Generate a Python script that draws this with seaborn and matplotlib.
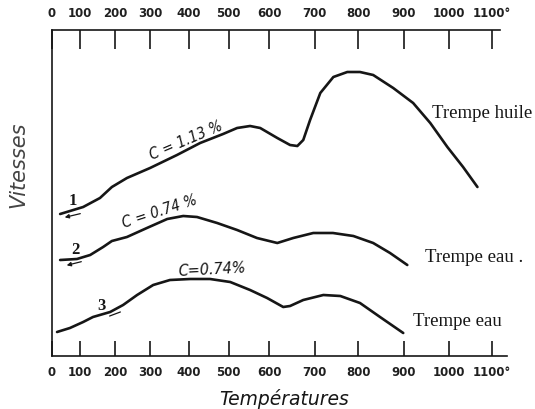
import numpy as np
import pandas as pd
import matplotlib
matplotlib.use("Agg")
import matplotlib.pyplot as plt
import seaborn as sns

# ---------------- data ----------------
# hand-drawn temperature scale: tick temperatures and the (irregular) drawn spacing
tick_temps = [0, 100, 200, 300, 400, 500, 600, 700, 800, 900, 1000, 1100]
tick_labels = ["0", "100", "200", "300", "400", "500", "600", "700", "800",
               "900", "1000", "1100°"]
scale_marks = [52, 80, 115, 150, 189, 228.5, 269, 314.5, 358, 403.5, 448.5, 492]

# curve 1 : C = 1.13 %, trempe huile  (temperature °C, relative speed)
t1 = [29, 109, 157, 191, 234, 300, 369, 428, 486, 521, 553, 578, 618, 646,
      662, 675, 690, 713, 743, 775, 804, 833, 877, 921, 959, 997, 1033, 1066]
v1 = [142, 149, 158, 169, 178, 188, 201, 213, 222, 228, 230, 228, 218, 211,
      210, 216, 236, 263, 279, 284, 284, 281, 268, 253, 233, 209, 189, 169]
# curve 2 : C = 0.74 %, trempe eau
t2 = [29, 89, 129, 166, 191, 234, 291, 344, 385, 420, 471, 521, 570, 618,
      653, 697, 742, 789, 833, 870, 908]
v2 = [96, 97, 101, 109, 115, 119, 128, 137, 140, 139, 133, 126, 118, 113,
      118, 123, 123, 120, 113, 103, 91]
# curve 3 : C = 0.74 %, trempe eau
t3 = [18, 64, 109, 137, 186, 223, 263, 308, 351, 403, 453, 504, 553, 595,
      631, 646, 675, 720, 759, 804, 848, 899]
v3 = [24, 28, 34, 39, 44, 51, 61, 71, 76, 77, 77, 74, 66, 58,
      49, 50, 56, 61, 60, 53, 39, 23]

curve_names = ["1", "2", "3"]

df = pd.concat([
    pd.DataFrame({"T": t1, "v": v1, "curve": "1"}),
    pd.DataFrame({"T": t2, "v": v2, "curve": "2"}),
    pd.DataFrame({"T": t3, "v": v3, "curve": "3"}),
], ignore_index=True)

# ---------------- figure ----------------
sns.set_style("white")
plt.rcParams["font.family"] = ["DejaVu Sans"]

W, H = 535, 409
fig = plt.figure(figsize=(W / 100, H / 100), dpi=100)
ax = fig.add_axes([52 / W, 53 / H, 462 / W, 326 / H])

ext_t = np.r_[-300, tick_temps, 1500]
ext_p = np.r_[52 - 0.28 * 300, scale_marks, 492 + 0.435 * 400]


def fwd(t):
    return np.interp(t, ext_t, ext_p)


def inv(p):
    return np.interp(p, ext_p, ext_t)


ax.set_xscale("function", functions=(fwd, inv))

ink = "#161616"
sns.lineplot(data=df, x="T", y="v", hue="curve", units="curve",
             estimator=None, sort=False, legend=False,
             palette={c: ink for c in curve_names}, linewidth=1.9, ax=ax)
for ln in ax.lines:
    ln.set_solid_joinstyle("round")
    ln.set_solid_capstyle("round")

ax.set_xlim(0, 1150)
ax.set_ylim(0, 326)
ax.set_xlabel("")
ax.set_ylabel("")
ax.set_yticks([])
ax.set_xticks(tick_temps)
ax.set_xticklabels(tick_labels)
ax.tick_params(axis="x", which="major", direction="in", top=True, bottom=True,
               labeltop=True, labelbottom=True, length=11, width=1.2,
               color=ink, labelcolor="#202020", labelsize=8.5, pad=7)
for lab in ax.get_xticklabels(which="both"):
    lab.set_fontweight("semibold")
for lab in ax.xaxis.get_ticklabels(minor=False):
    lab.set_fontweight("semibold")
for tk in ax.xaxis.get_major_ticks():
    tk.tick2line.set_markersize(14)
    tk.label2.set_fontweight("semibold")

for s in ["top", "bottom", "left"]:
    ax.spines[s].set_color(ink)
    ax.spines[s].set_linewidth(1.2)
ax.spines["right"].set_visible(False)
ax.spines["bottom"].set_bounds(0, 1135)
ax.spines["top"].set_bounds(0, 1118)


def fp(x, y):
    return (x / W, 1 - y / H)


# axis titles
fig.text(*fp(284, 399), "Températures", ha="center", va="center",
         fontsize=13.5, style="italic", color=ink)
fig.text(*fp(18, 165), "Vitesses", ha="center", va="center", rotation=90,
         fontsize=15, style="italic", color="#444444", fontweight="light")

# curve annotations
serif = ["Liberation Serif", "DejaVu Serif"]
fig.text(*fp(432, 113), "Trempe huile", ha="left", va="center",
         fontsize=13.5, family=serif, color=ink)
fig.text(*fp(425, 257), "Trempe eau .", ha="left", va="center",
         fontsize=13.5, family=serif, color=ink)
fig.text(*fp(413, 322), "Trempe eau", ha="left", va="center",
         fontsize=13.5, family=serif, color=ink)

ckw = dict(ha="center", va="center", style="italic", color=ink,
           rotation_mode="anchor", fontstretch="condensed")
fig.text(*fp(186, 141), "C = 1.13 %", rotation=23, fontsize=11, **ckw)
fig.text(*fp(160, 212), "C = 0.74 %", rotation=18, fontsize=11, **ckw)
fig.text(*fp(212, 270), "C=0.74%", rotation=3, fontsize=11.5, **ckw)

for name, (x, y) in zip(curve_names, [(73, 201), (75, 250), (102, 306)]):
    fig.text(*fp(x, y), name, ha="center", va="center", fontsize=12,
             family=serif, fontweight="bold", color=ink)

# little direction arrows / strokes under the curve numbers
for (x0, y0, x1, y1, style) in [(83, 213, 62, 218, "-|>"),
                                 (84, 261, 64, 266, "-|>"),
                                 (123, 311, 107, 317, "-")]:
    fig.add_artist(matplotlib.patches.FancyArrowPatch(
        fp(x0, y0), fp(x1, y1), transform=fig.transFigure,
        arrowstyle=style, mutation_scale=6, color=ink, linewidth=0.9))

fig.savefig("out.png", dpi=100)
